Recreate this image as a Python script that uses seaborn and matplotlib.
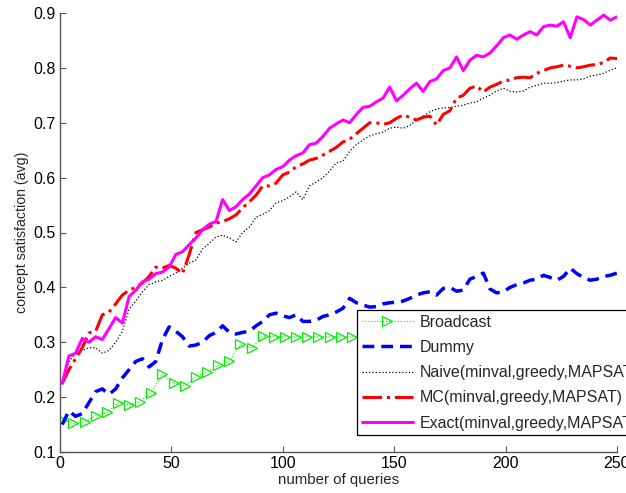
import matplotlib
matplotlib.use("Agg")
import matplotlib.pyplot as plt
import seaborn as sns
import numpy as np
import pandas as pd

queries = list(range(1, 251, 3))

exact = [0.225, 0.275, 0.28, 0.307, 0.30, 0.31, 0.305, 0.325, 0.345, 0.335,
         0.383, 0.395, 0.41, 0.415, 0.425, 0.428, 0.437, 0.46, 0.465, 0.478,
         0.49, 0.505, 0.515, 0.52, 0.56, 0.54, 0.547, 0.56, 0.57, 0.585,
         0.60, 0.605, 0.615, 0.62, 0.632, 0.64, 0.645, 0.66, 0.663, 0.675,
         0.69, 0.698, 0.705, 0.70, 0.715, 0.728, 0.73, 0.738, 0.745, 0.765,
         0.74, 0.75, 0.762, 0.772, 0.757, 0.775, 0.78, 0.795, 0.80, 0.82,
         0.795, 0.814, 0.823, 0.82, 0.827, 0.84, 0.855, 0.86, 0.852, 0.86,
         0.866, 0.86, 0.875, 0.878, 0.876, 0.884, 0.855, 0.893, 0.888, 0.878,
         0.887, 0.896, 0.887, 0.893]

mc = [0.225, 0.25, 0.27, 0.29, 0.317, 0.32, 0.35, 0.355, 0.37, 0.386,
      0.395, 0.40, 0.408, 0.42, 0.437, 0.435, 0.44, 0.435, 0.425, 0.46,
      0.50, 0.505, 0.51, 0.517, 0.52, 0.525, 0.532, 0.545, 0.556, 0.568,
      0.585, 0.585, 0.59, 0.605, 0.61, 0.62, 0.625, 0.632, 0.635, 0.641,
      0.648, 0.655, 0.665, 0.67, 0.68, 0.69, 0.70, 0.70, 0.697, 0.70,
      0.708, 0.714, 0.71, 0.705, 0.71, 0.712, 0.696, 0.715, 0.722, 0.745,
      0.75, 0.763, 0.767, 0.756, 0.765, 0.77, 0.776, 0.778, 0.782, 0.783,
      0.782, 0.79, 0.795, 0.80, 0.802, 0.805, 0.803, 0.80, 0.802, 0.805,
      0.806, 0.81, 0.818, 0.817]

naive = [0.23, 0.265, 0.28, 0.285, 0.29, 0.29, 0.28, 0.285, 0.30, 0.32,
         0.36, 0.375, 0.392, 0.405, 0.41, 0.413, 0.42, 0.426, 0.435, 0.444,
         0.45, 0.47, 0.48, 0.492, 0.495, 0.49, 0.483, 0.50, 0.51, 0.528,
         0.533, 0.54, 0.554, 0.558, 0.565, 0.574, 0.56, 0.585, 0.592, 0.60,
         0.612, 0.627, 0.63, 0.648, 0.66, 0.669, 0.676, 0.68, 0.683, 0.69,
         0.692, 0.69, 0.695, 0.705, 0.712, 0.72, 0.725, 0.727, 0.728, 0.73,
         0.732, 0.736, 0.738, 0.745, 0.75, 0.758, 0.763, 0.757, 0.756, 0.758,
         0.765, 0.768, 0.772, 0.772, 0.773, 0.776, 0.778, 0.778, 0.78, 0.785,
         0.787, 0.79, 0.796, 0.80]

dummy = [0.15, 0.175, 0.165, 0.17, 0.19, 0.21, 0.215, 0.205, 0.215, 0.235,
         0.25, 0.265, 0.27, 0.255, 0.265, 0.305, 0.328, 0.32, 0.31, 0.293,
         0.295, 0.30, 0.312, 0.318, 0.33, 0.318, 0.315, 0.318, 0.32, 0.33,
         0.338, 0.35, 0.353, 0.348, 0.345, 0.35, 0.338, 0.338, 0.34, 0.347,
         0.35, 0.355, 0.362, 0.38, 0.372, 0.368, 0.364, 0.365, 0.37, 0.372,
         0.373, 0.375, 0.38, 0.386, 0.39, 0.392, 0.386, 0.398, 0.40, 0.393,
         0.395, 0.415, 0.42, 0.426, 0.397, 0.39, 0.392, 0.40, 0.405, 0.408,
         0.413, 0.415, 0.422, 0.418, 0.413, 0.42, 0.435, 0.425, 0.418, 0.413,
         0.415, 0.42, 0.422, 0.426]

bc_queries = list(range(1, 250, 5))
broadcast = [0.158, 0.152, 0.155, 0.166, 0.172, 0.189, 0.186, 0.192, 0.208, 0.242,
             0.225, 0.221, 0.237, 0.246, 0.258, 0.265, 0.296, 0.289, 0.311, 0.31,
             0.31, 0.31, 0.31, 0.31, 0.31, 0.31, 0.31, 0.31, 0.312, 0.312,
             0.312, 0.314, 0.314, 0.315, 0.315, 0.316, 0.316, 0.317, 0.317, 0.318,
             0.318, 0.318, 0.319, 0.319, 0.32, 0.32, 0.32, 0.321, 0.321, 0.322]

labels = ["Broadcast", "Dummy", "Naive(minval,greedy,MAPSAT)",
          "MC(minval,greedy,MAPSAT)", "Exact(minval,greedy,MAPSAT)"]

sns.set_style("ticks")
plt.rcParams['font.family'] = ['Liberation Sans', 'DejaVu Sans']
plt.rcParams['font.size'] = 11

fig = plt.figure(figsize=(6.26, 4.93), dpi=100)
ax = fig.add_axes([60/626, 41/493, 557/626, 439/493])

sns.lineplot(x=bc_queries, y=broadcast, ax=ax, color='#00ee00', linestyle=':',
             linewidth=0.8, marker='>', markersize=7, markerfacecolor='none',
             markeredgecolor='#00ee00', markeredgewidth=0.9, label=labels[0])
sns.lineplot(x=queries, y=dummy, ax=ax, color='#0000ff', linewidth=2.5,
             dashes=False, label=labels[1])
ax.lines[-1].set_dashes((3.4, 2.0))
sns.lineplot(x=queries, y=naive, ax=ax, color='black', linewidth=0.9,
             linestyle=':', label=labels[2])
sns.lineplot(x=queries, y=mc, ax=ax, color='#ff0000', linewidth=2.2,
             linestyle='-.', label=labels[3])
sns.lineplot(x=queries, y=exact, ax=ax, color='#ff00ff', linewidth=2.2,
             label=labels[4])

ax.set_xlim(0, 250)
ax.set_ylim(0.1, 0.9)
ax.set_xticks([0, 50, 100, 150, 200, 250])
ax.set_yticks([0.1, 0.2, 0.3, 0.4, 0.5, 0.6, 0.7, 0.8, 0.9])
ax.set_yticklabels(["0.1", "0.2", "0.3", "0.4", "0.5", "0.6", "0.7", "0.8", "0.9"])
ax.set_xlabel("number of queries", fontsize=10.8, labelpad=1)
ax.set_ylabel("concept satisfaction (avg)", fontsize=10.2, labelpad=3)
ax.tick_params(direction='in', length=4, width=0.8, colors='#555555',
               labelcolor='black', labelsize=11.5, pad=3)
for s in ['top', 'right']:
    ax.spines[s].set_visible(False)
for s in ['left', 'bottom']:
    ax.spines[s].set_color('#555555')
    ax.spines[s].set_linewidth(1.0)

leg = ax.legend(loc='upper left', bbox_to_anchor=((357-60)/557, (452-310)/439),
                frameon=True, fancybox=False, framealpha=1, edgecolor='black',
                fontsize=11.5, handlelength=3.2, borderaxespad=0, borderpad=0.3,
                labelspacing=0.64, handletextpad=0.45)
leg.get_frame().set_linewidth(0.9)

fig.savefig("out.png", dpi=100)
